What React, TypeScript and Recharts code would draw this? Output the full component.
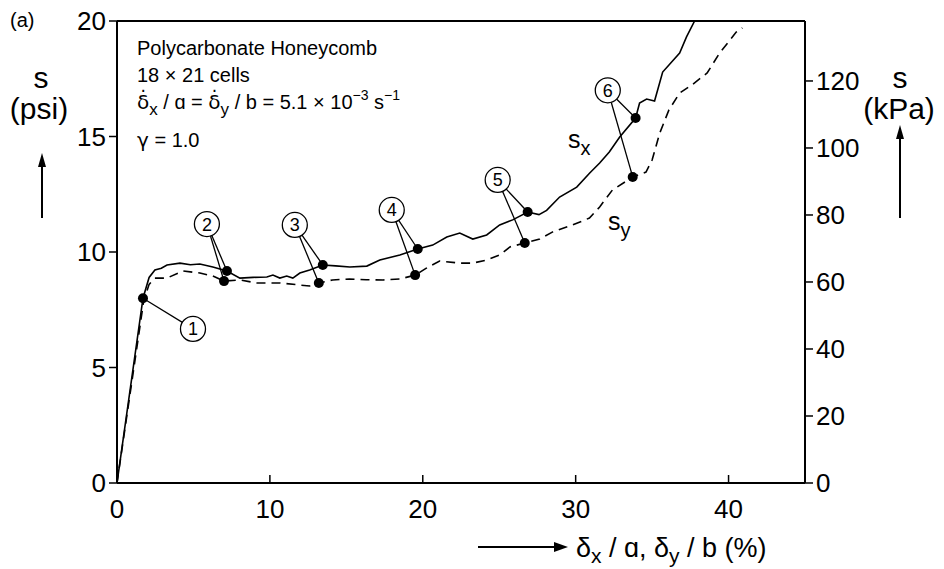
import React from "react";
import { ComposedChart, Line, Scatter, XAxis, YAxis, ReferenceLine } from "recharts";

// ─── Data ─────────────────────────────────────────────────────────────────────

// s_x : nominal stress (psi) vs nominal strain (%) in the x direction
const sxStrain = [
  0, 1.7, 2.1, 2.48, 2.9, 3.27, 4.12, 4.8, 5.42, 6.27, 7.19, 8.04, 8.9, 9.8, 10.2,
  10.65, 11.1, 11.5, 11.96, 12.6, 13.46, 14.3, 15.23, 16.34, 17.19, 18.5, 19.67,
  20.65, 21.57, 22.42, 23.27, 24.18, 25.03, 25.88, 26.86, 27.6, 28.1, 28.95, 30.07,
  30.92, 31.57, 32.2, 32.88, 33.92, 34.18, 34.64, 35.16, 35.69, 36.8, 37.25, 37.78,
];
const sxStress = [
  0, 8.0, 8.9, 9.22, 9.3, 9.44, 9.52, 9.45, 9.48, 9.35, 9.18, 8.87, 8.9, 8.92, 9.0,
  8.87, 8.96, 8.87, 9.09, 9.22, 9.44, 9.4, 9.35, 9.39, 9.65, 9.87, 10.13,
  10.3, 10.65, 10.82, 10.56, 10.74, 11.17, 11.39, 11.73, 11.62, 11.8, 12.38, 12.81,
  13.42, 13.85, 14.33, 14.98, 15.8, 16.45, 16.62, 16.54, 17.79, 18.61, 19.31, 20.0,
];

// s_y : nominal stress (psi) vs nominal strain (%) in the y direction
const syStrain = [
  0, 1.75, 2.1, 2.48, 3.27, 4.3, 5.42, 6.27, 7.0, 8.04, 9.15, 10.65, 11.96, 12.6,
  13.2, 14.1, 15.2, 16.3, 17.4, 18.5, 19.5, 20.26, 21.1, 22.4, 23.27, 24.18, 25.03,
  25.7, 26.67, 27.65, 28.5, 29.8, 30.9, 31.57, 32.4, 33.73, 34.6, 35.0, 35.5, 36.1,
  36.8, 37.6, 38.6, 39.4, 40.1, 40.5, 40.9,
];
const syStress = [
  0, 7.9, 8.6, 8.87, 8.87, 9.18, 9.09, 8.96, 8.74, 8.79, 8.66, 8.66, 8.57, 8.53,
  8.66, 8.79, 8.83, 8.8, 8.79, 8.83, 9.0, 9.31, 9.61, 9.52, 9.52, 9.65, 9.87,
  10.22, 10.39, 10.56, 10.87, 11.17, 11.47, 11.95, 12.68, 13.25, 13.46, 13.98, 15.15, 16.15,
  16.88, 17.23, 17.75, 18.6, 19.18, 19.52, 19.7,
];

// numbered states marked on the curves (state 1 is shared by both curves)
const markIds = [1, 2, 3, 4, 5, 6];
const markSxStrain = [1.7, 7.19, 13.46, 19.67, 26.86, 33.92];
const markSxStress = [8.0, 9.18, 9.44, 10.13, 11.73, 15.8];
const markSyStrain = [null, 7.0, 13.2, 19.5, 26.67, 33.73];
const markSyStress = [null, 8.74, 8.66, 9.0, 10.39, 13.25];
const tagStrain = [4.97, 5.88, 11.63, 17.97, 24.9, 32.1];
const tagStress = [6.67, 11.21, 11.17, 11.82, 13.12, 17.0];

const strainTicks = [0, 10, 20, 30, 40];
const psiTicks = [0, 5, 10, 15, 20];
const kpaTicks = [0, 20, 40, 60, 80, 100, 120];
const PSI_TO_KPA = 6.895;

// ─── Derived series ───────────────────────────────────────────────────────────

const sxData = sxStrain.map((strain, i) => ({ strain, psi: sxStress[i] }));
const syData = syStrain.map((strain, i) => ({ strain, psi: syStress[i] }));

const markDots = [
  ...markSxStrain.map((strain, i) => ({ strain, psi: markSxStress[i] })),
  ...markSyStrain
    .map((strain, i) => ({ strain, psi: markSyStress[i] }))
    .filter((d) => d.strain !== null),
];

const tags = markIds.map((id, i) => ({ id, strain: tagStrain[i], psi: tagStress[i] }));

// one leader segment from each tag to each of its dots
const leaders = markIds.flatMap((id, i) => {
  const tag = { strain: tagStrain[i], psi: tagStress[i] };
  const segs = [[tag, { strain: markSxStrain[i], psi: markSxStress[i] }]];
  if (markSyStrain[i] !== null) {
    segs.push([tag, { strain: markSyStrain[i] as number, psi: markSyStress[i] as number }]);
  }
  return segs;
});

// ─── Styling ──────────────────────────────────────────────────────────────────

const FONT = "'Liberation Sans', Arial, Helvetica, sans-serif";
const GREEK = "'DejaVu Sans', sans-serif";
const INK = "#000";

// ─── Shapes ───────────────────────────────────────────────────────────────────

function MarkDot({ cx = 0, cy = 0 }: { cx?: number; cy?: number }) {
  return <circle cx={cx} cy={cy} r={5} fill={INK} />;
}

function Tag({ cx = 0, cy = 0, payload }: { cx?: number; cy?: number; payload?: { id: number } }) {
  return (
    <g>
      <circle cx={cx} cy={cy} r={12.5} fill="#fff" stroke={INK} strokeWidth={1.3} />
      <text
        x={cx}
        y={cy}
        dy="0.36em"
        textAnchor="middle"
        fontSize={18}
        fontFamily={FONT}
        fill={INK}
      >
        {payload?.id}
      </text>
    </g>
  );
}

function StrainTick({ x = 0, y = 0, payload }: { x?: number; y?: number; payload?: { value: number } }) {
  return (
    <g>
      <line x1={x} x2={x} y1={y} y2={y - 8} stroke={INK} strokeWidth={1.5} />
      <text x={x} y={y + 35} textAnchor="middle" fontSize={26} fontFamily={FONT} fill={INK}>
        {payload?.value}
      </text>
    </g>
  );
}

function UpArrow({ x, y1, y2 }: { x: number; y1: number; y2: number }) {
  return (
    <g>
      <line x1={x} x2={x} y1={y1} y2={y2 + 10} stroke={INK} strokeWidth={2} />
      <polygon points={`${x - 4},${y2 + 14} ${x + 4},${y2 + 14} ${x},${y2}`} fill={INK} />
    </g>
  );
}

// ─── Chart ────────────────────────────────────────────────────────────────────

export default function App() {
  const tickFont = { fontSize: 26, fill: INK, fontFamily: FONT };
  return (
    <div style={{ position: "absolute", left: 0, top: 0, width: 944, height: 569, background: "#fff" }}>
      <ComposedChart width={944} height={569} margin={{ top: 21, right: 0, bottom: 0, left: 0 }}>
        <XAxis
          dataKey="strain"
          type="number"
          domain={[0, 45]}
          ticks={strainTicks}
          allowDataOverflow
          height={86}
          tickSize={0}
          tickMargin={0}
          tickLine={false}
          axisLine={{ stroke: INK, strokeWidth: 2 }}
          tick={<StrainTick />}
        />
        <YAxis
          yAxisId="psi"
          dataKey="psi"
          type="number"
          domain={[0, 20]}
          ticks={psiTicks}
          allowDataOverflow
          width={117}
          tickSize={8}
          tickMargin={3}
          tickLine={{ stroke: INK, strokeWidth: 1.5 }}
          axisLine={{ stroke: INK, strokeWidth: 2 }}
          tick={tickFont}
        />
        <YAxis
          yAxisId="kpa"
          orientation="right"
          type="number"
          domain={[0, 20 * PSI_TO_KPA]}
          ticks={kpaTicks}
          allowDataOverflow
          width={139}
          tickSize={8}
          tickMargin={3}
          tickLine={{ stroke: INK, strokeWidth: 1.5 }}
          axisLine={{ stroke: INK, strokeWidth: 2 }}
          tick={tickFont}
        />
        <ReferenceLine yAxisId="psi" y={20} stroke={INK} strokeWidth={2} />

        <Line
          yAxisId="psi"
          data={sxData}
          dataKey="psi"
          type="linear"
          stroke={INK}
          strokeWidth={1.6}
          dot={false}
          activeDot={false}
          isAnimationActive={false}
        />
        <Line
          yAxisId="psi"
          data={syData}
          dataKey="psi"
          type="linear"
          stroke={INK}
          strokeWidth={1.6}
          strokeDasharray="9 6"
          dot={false}
          activeDot={false}
          isAnimationActive={false}
        />
        {leaders.map((seg, i) => (
          <Line
            key={`leader-${i}`}
            yAxisId="psi"
            data={seg}
            dataKey="psi"
            type="linear"
            stroke={INK}
            strokeWidth={1.3}
            dot={false}
            activeDot={false}
            isAnimationActive={false}
          />
        ))}
        <Scatter
          yAxisId="psi"
          data={markDots}
          dataKey="psi"
          shape={<MarkDot />}
          isAnimationActive={false}
        />
        <Scatter
          yAxisId="psi"
          data={tags}
          dataKey="psi"
          shape={<Tag />}
          isAnimationActive={false}
        />
      </ComposedChart>

      {/* panel letter, annotation block and axis titles */}
      <svg
        width={944}
        height={569}
        style={{ position: "absolute", left: 0, top: 0, pointerEvents: "none" }}
        fontFamily={FONT}
        fill={INK}
      >
        <text x={10} y={27} fontSize={20}>(a)</text>

        <text x={137} y={55} fontSize={20}>Polycarbonate Honeycomb</text>
        <text x={137} y={82} fontSize={20}>18 × 21 cells</text>
        <text x={137} y={109} fontSize={20}>
          <tspan fontFamily={GREEK}>δ̇</tspan>
          <tspan dy={6} fontSize={17}>x</tspan>
          <tspan dy={-6}> / ɑ = </tspan>
          <tspan fontFamily={GREEK}>δ̇</tspan>
          <tspan dy={6} fontSize={17}>y</tspan>
          <tspan dy={-6}> / b = 5.1 × 10</tspan>
          <tspan dy={-9} fontSize={14}>−3</tspan>
          <tspan dy={9}>  s</tspan>
          <tspan dy={-9} fontSize={14}>−1</tspan>
        </text>
        <text x={137} y={147} fontSize={20}>
          <tspan fontFamily={GREEK}>γ</tspan> = 1.0
        </text>

        <text x={568} y={148} fontSize={25}>
          s<tspan dy={7} fontSize={20}>x</tspan>
        </text>
        <text x={608} y={230} fontSize={25}>
          s<tspan dy={7} fontSize={20}>y</tspan>
        </text>

        <text x={41} y={88} fontSize={30} textAnchor="middle">s</text>
        <text x={39} y={119} fontSize={30} textAnchor="middle">(psi)</text>
        <UpArrow x={42} y1={218} y2={153} />

        <text x={900} y={88} fontSize={30} textAnchor="middle">s</text>
        <text x={899} y={119} fontSize={30} textAnchor="middle">(kPa)</text>
        <UpArrow x={900} y1={218} y2={125} />

        <line x1={478} x2={556} y1={547} y2={547} stroke={INK} strokeWidth={2} />
        <polygon points="554,542 554,552 568,547" fill={INK} />
        <text x={576} y={557} fontSize={27}>
          δ<tspan dy={6} fontSize={21}>x</tspan>
          <tspan dy={-6}> / ɑ, δ</tspan>
          <tspan dy={6} fontSize={21}>y</tspan>
          <tspan dy={-6}> / b (%)</tspan>
        </text>
      </svg>
    </div>
  );
}
